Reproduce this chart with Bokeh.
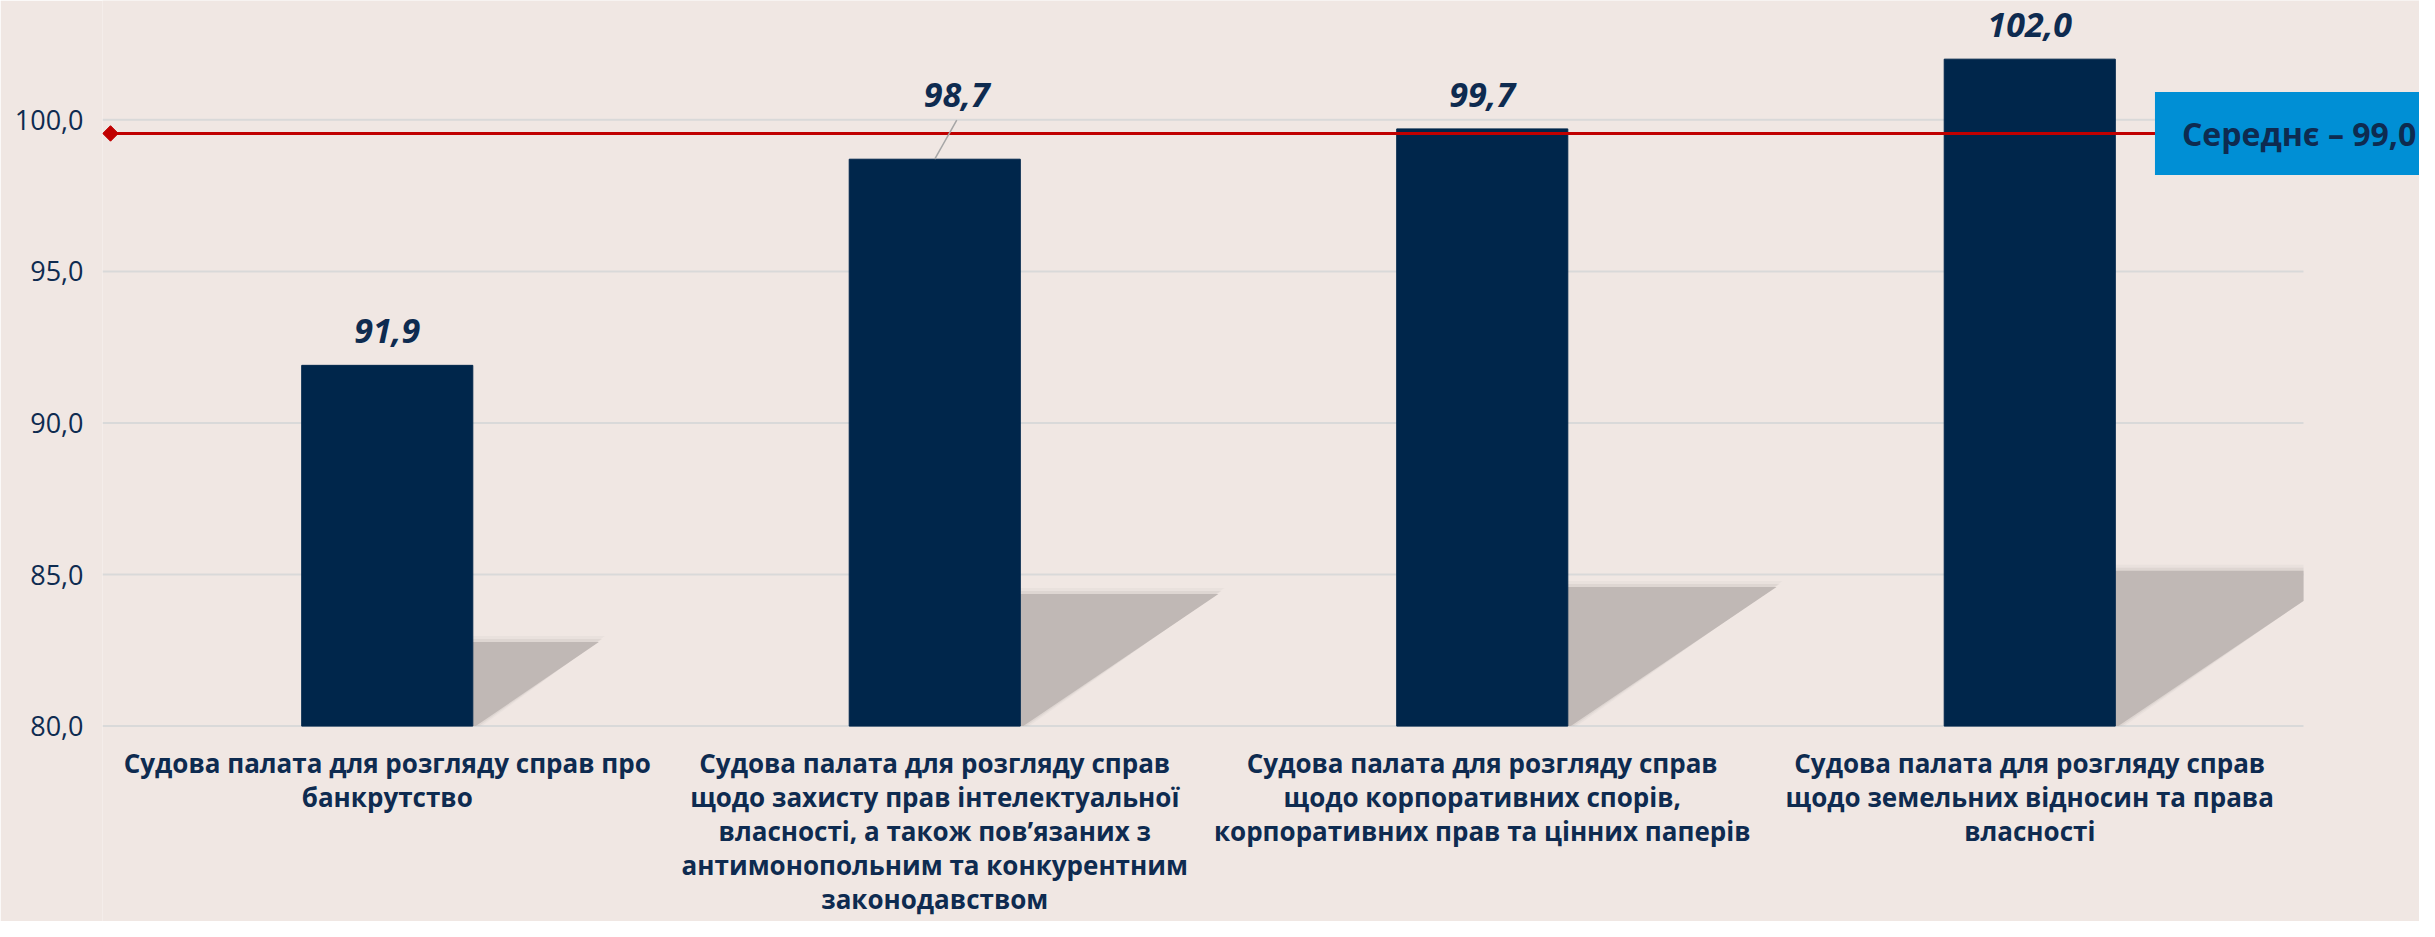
from math import pi

from bokeh.plotting import figure
from bokeh.models import Range1d, FixedTicker, ColumnDataSource, Label
from bokeh.core.properties import value
from bokeh.embed import file_html
from bokeh.resources import INLINE

# ---------------- data ----------------
categories = [
    "Судова палата для розгляду справ про\nбанкрутство",
    "Судова палата для розгляду справ\nщодо захисту прав інтелектуальної\nвласності, а також пов’язаних з\nантимонопольним та конкурентним\nзаконодавством",
    "Судова палата для розгляду справ\nщодо корпоративних спорів,\nкорпоративних прав та цінних паперів",
    "Судова палата для розгляду справ\nщодо земельних відносин та права\nвласності",
]
values = [91.9, 98.7, 99.7, 102.0]
value_labels = ["91,9", "98,7", "99,7", "102,0"]
average_line = 99.55
average_label = "Середнє – 99,0"
y_ticks = [80, 85, 90, 95, 100]
y_tick_labels = ["80,0", "85,0", "90,0", "95,0", "100,0"]
baseline = 80

# ---------------- style ----------------
BG = "#F0E7E3"
NAVY = "#00264B"
TEXT = "#0E2B50"
GRID = "#D9D9D9"
RED = "#C00000"
BOX = "#008FD5"
SHADOW = "#C0B8B5"
LEADER = "#A6A6A6"
FONT = "Open Sans"

W, H = 2419, 921
B_LEFT = 102
frame_w = W - B_LEFT
frame_h = H
px_x = 547.5                      # px per category
px_y = 30.315                     # px per value unit
cat_left_px = 113                 # where category 0 starts (px from figure left)
y100_px = 119.3                   # px from top where value 100 sits
x_start = (B_LEFT - cat_left_px) / px_x
x_end = x_start + frame_w / px_x
y_end = 100 + y100_px / px_y
y_start = y_end - frame_h / px_y
n_cat = len(categories)

bar_width = 0.3125
label_dx = [0, 22, 0, 0]          # px
label_dy = [0, -30, 0, 0]         # px (negative = up)
leader = [False, True, False, False]
leader_len = 39                   # px vertical extent of leader line
label_gap = 34                    # px above bar top
shadow_rel = 0.233
shadow_slant = 1.5
xlabel_first = 37                 # px below baseline value to first line
xlabel_step = 34                  # line spacing px

xs = [i + 0.5 for i in range(n_cat)]

p = figure(width=W, height=H, output_backend="svg", toolbar_location=None,
           x_range=Range1d(x_start, x_end), y_range=Range1d(y_start, y_end),
           min_border_left=B_LEFT, min_border_right=0,
           min_border_top=0, min_border_bottom=0,
           background_fill_color=BG, border_fill_color=BG, outline_line_color=None)

# axes
p.xaxis.visible = False
p.xgrid.grid_line_color = None
p.ygrid.grid_line_color = None
yax = p.yaxis[0]
yax.ticker = FixedTicker(ticks=y_ticks)
yax.major_label_overrides = {t: l for t, l in zip(y_ticks, y_tick_labels)}
yax.axis_line_color = None
yax.major_tick_line_color = None
yax.minor_tick_line_color = None
yax.major_tick_out = 0
yax.major_tick_in = 0
yax.major_label_standoff = 19
yax.major_label_text_font = FONT
yax.major_label_text_font_size = "27px"
yax.major_label_text_color = TEXT

# horizontal grid lines spanning the category area
p.segment(x0=[x_start] * len(y_ticks), y0=y_ticks, x1=[n_cat] * len(y_ticks), y1=y_ticks,
          line_color=GRID, line_width=2)


def clip_right(px, py, limit):
    """Clip a polygon to x <= limit (Sutherland-Hodgman, one edge)."""
    out_x, out_y = [], []
    n = len(px)
    for i in range(n):
        x1, y1 = px[i], py[i]
        x2, y2 = px[(i + 1) % n], py[(i + 1) % n]
        in1, in2 = x1 <= limit, x2 <= limit
        if in1:
            out_x.append(x1)
            out_y.append(y1)
        if in1 != in2:
            t = (limit - x1) / (x2 - x1)
            out_x.append(limit)
            out_y.append(y1 + t * (y2 - y1))
    return out_x, out_y


# shadows (drawn before bars)
for x, v in zip(xs, values):
    R = x + bar_width / 2
    h = shadow_rel * (v - baseline)
    top = baseline + h
    wx = shadow_slant * h * px_y / px_x
    br = 3 / px_x
    for e, a in [(6, 0.12), (3, 0.25), (0, 1.0)]:
        ex = e / px_x
        ey = e / px_y
        sx, sy = clip_right([R, R, R + wx + ex, R + br + ex],
                            [baseline, top + ey, top + ey, baseline], n_cat)
        p.patch(sx, sy, fill_color=SHADOW, fill_alpha=a, line_color=None)

# bars
p.vbar(x=xs, top=values, bottom=baseline, width=bar_width, fill_color=NAVY, line_color=NAVY)

# average line
x_diamond = x_start + 8 / px_x
p.line([x_diamond, n_cat], [average_line, average_line], line_color=RED, line_width=3)
p.scatter([x_diamond], [average_line], marker="square", angle=pi / 4, size=11,
          fill_color=RED, line_color=RED)

# leader lines
for x, v, d, dx in zip(xs, values, leader, label_dx):
    if d:
        p.segment(x0=[x], y0=[v], x1=[x + dx / px_x], y1=[v + leader_len / px_y],
                  line_color=LEADER, line_width=1.5)

# value labels
vsrc = ColumnDataSource(dict(x=xs, y=values, t=value_labels, xo=label_dx,
                             yo=[-label_gap + d for d in label_dy]))
p.text(x="x", y="y", text="t", x_offset="xo", y_offset="yo", source=vsrc,
       text_align="center", text_baseline="alphabetic",
       text_font=value(FONT), text_font_style="bold italic",
       text_font_size="34px", text_color=TEXT)

# category labels
lx, ly, lt, lo = [], [], [], []
for x, c in zip(xs, categories):
    for j, line in enumerate(c.split("\n")):
        lx.append(x)
        ly.append(baseline)
        lt.append(line)
        lo.append(xlabel_first + j * xlabel_step)
lsrc = ColumnDataSource(dict(x=lx, y=ly, t=lt, o=lo))
p.text(x="x", y="y", text="t", y_offset="o", source=lsrc,
       text_align="center", text_baseline="alphabetic",
       text_font=value(FONT), text_font_style="bold",
       text_font_size="26px", text_color=TEXT)

# average box
p.add_layout(Label(x=3.992, y=average_line, text=average_label,
                   text_align="center", text_baseline="middle",
                   text_font=FONT, text_font_style="bold", text_font_size="32px",
                   text_color=TEXT, background_fill_color=BOX,
                   padding=dict(top=20, right=27, bottom=20, left=27)))

open("out.html", "w").write(file_html(p, INLINE))
